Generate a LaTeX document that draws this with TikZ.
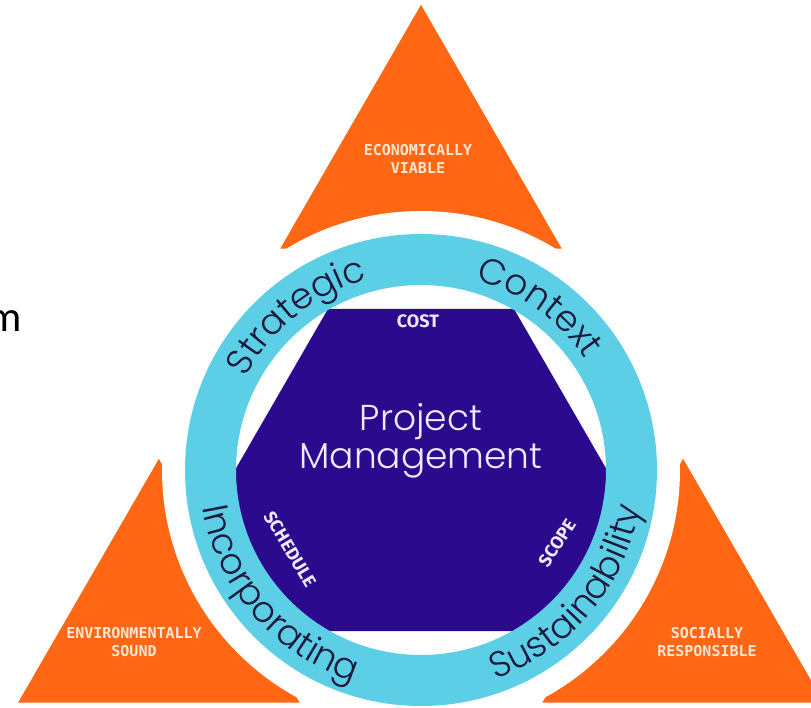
\documentclass[tikz,border=0pt]{standalone}
\usepackage{fontspec}
\usepackage{xcolor}
\usetikzlibrary{shapes.geometric,decorations.text}
\IfFontExistsTF{Poppins Light}{\newfontfamily\ringfont{Poppins Light}}{\newfontfamily\ringfont{Poppins}}
\newfontfamily\tagfont{Fira Sans}
\newfontfamily\monofont{DejaVu Sans Mono}
\newfontfamily\slidefont{Carlito}
\newcommand{\ringsize}{\ringfont\fontsize{36}{36}\selectfont}
\definecolor{pmorange}{HTML}{FF6714}
\definecolor{pmcyan}{HTML}{5CCFE6}
\definecolor{pmnavy}{HTML}{2C0A8E}
\definecolor{pmink}{HTML}{1B1A3D}
\definecolor{pmpeach}{HTML}{FFE6D2}
\definecolor{pmlilac}{HTML}{F0EAFF}

\begin{document}
\begin{tikzpicture}[x=1pt,y=1pt,
  tri/.style={regular polygon, regular polygon sides=3, minimum size=325pt, inner sep=0pt, fill=pmorange},
  tritext/.style={text=pmpeach, font=\monofont\bfseries\fontsize{15}{18}\selectfont, align=center},
  tagtext/.style={text=pmlilac, font=\tagfont\bfseries\fontsize{18}{18}\selectfont, inner sep=0pt},
  pmtext/.style={text=pmlilac, font=\ringfont\fontsize{36}{38}\selectfont, anchor=base, inner sep=0pt},
  ringtext/.style={decorate, decoration={text along path, text align=center, text color=pmink, text={|\ringsize|#1}}}]
\useasboundingbox (-421,-237) rectangle (390,470);
%TRIANGLES
\node[tri] (econ) at (90:302.7) {};
\node[tri] (envi) at (210:302.7) {};
\node[tri] (soci) at (330:302.7) {};
\fill[white] (0,0) circle (259);
%CORE
\fill[pmnavy] (0:186) -- (60:186) -- (120:186) -- (180:186)
  arc[start angle=180, end angle=240, radius=186] -- (300:186)
  arc[start angle=300, end angle=360, radius=186] -- cycle;
%RING
\draw[line width=51pt, pmcyan] (0,0) circle (210.5);
\path[ringtext=Strategic] (170:198) arc[start angle=170, end angle=88, radius=198];
\path[ringtext=Context] (95:198) arc[start angle=95, end angle=13, radius=198];
\path[ringtext=Incorporating] (180:222) arc[start angle=180, end angle=262, radius=222];
\path[ringtext=Sustainability] (279:222) arc[start angle=279, end angle=361, radius=222];
% Labels
\node[tritext] (econtext) at (-3,311) {ECONOMICALLY\\VIABLE};
\node[tritext] (envitext) at (-287,-172) {ENVIRONMENTALLY\\SOUND};
\node[tritext] (socitext) at (286,-172) {SOCIALLY\\RESPONSIBLE};
\node[tagtext] (cost) at (-3,149) {COST};
\node[tagtext, rotate=-59] (schedule) at (-131,-79) {SCHEDULE};
\node[tagtext, rotate=57] (scope) at (136,-73) {SCOPE};
\node[pmtext] (proj) at (0,40) {Project};
\node[pmtext] (mgmt) at (0,2) {Management};
\node[anchor=base east, inner sep=0pt, font=\slidefont\fontsize{43}{43}\selectfont] (cut) at (-399,138) {m};
\end{tikzpicture}
\end{document}
